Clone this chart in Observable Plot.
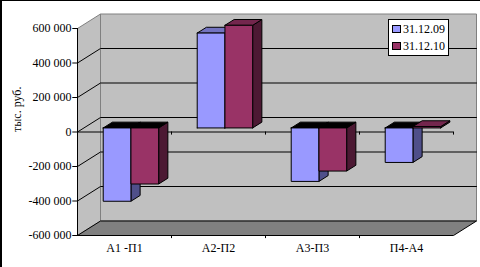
<!DOCTYPE html>
<html><head><meta charset="utf-8">
<script src="https://cdn.jsdelivr.net/npm/d3@7"></script>
<script src="https://cdn.jsdelivr.net/npm/@observablehq/plot@0.6"></script>
<style>
body{margin:0;background:#fff;}
#wrap{position:relative;width:480px;height:267px;overflow:hidden;font-family:"Liberation Serif",serif;}
#wrap svg{position:absolute;left:0;top:0;}
#wrap svg text{font-family:"Liberation Serif",serif;}
#border{position:absolute;left:0;top:0;width:480px;height:267px;border-left:2px solid #000;border-top:1px solid #000;box-sizing:border-box;pointer-events:none}
#legend{position:absolute;left:388px;top:19px;width:61px;height:37px;box-sizing:border-box;border:1px solid #000;background:#fff;font-size:12px;color:#000;font-family:"Liberation Serif",serif}
#legend .sw{position:absolute;left:3px;width:9px;height:8px;box-sizing:border-box;border:1px solid #000}
#legend .lb{position:absolute;left:14px;line-height:14px;white-space:nowrap}
</style></head>
<body><div id="wrap"></div>
<script>
// ---- data ----
const categories = ["А1 -П1", "А2-П2", "А3-П3", "П4-А4"];
const series = ["31.12.09", "31.12.10"];
const values09 = [-425000, 550000, -310000, -200000];
const values10 = [-325000, 595000, -250000, 8000];
const yTicks = [-600000, -400000, -200000, 0, 200000, 400000, 600000];
const yTitle = "тыс. руб.";

// ---- styles / 3D geometry ----
const FONT = "Liberation Serif";
const faceColors = ["#9999FF", "#993366"];
const sideColors = ["#4F4F8A", "#4C1933"];
const topColors = ["#7373C0", "#73264D"];
const DX = 23 / 94;     // full depth, x units
const DY = 84000;       // full depth, value units
const f0 = 0.28, f1 = 0.68; // bar depth range
const w = 0.295;        // bar width, x units
const yMin = -600000, yMax = 600000, nCat = categories.length;

const P = (x, v, f) => [x + f * DX, v + f * DY];
const poly = (pts, fill, stroke = "#000", sw = 1) =>
  Plot.line([...pts, pts[0]], {x: d => d[0], y: d => d[1], fill, stroke, strokeWidth: sw, strokeLinejoin: "miter"});

const marks = [];
// walls and floor
marks.push(poly([P(0, yMin, 1), P(nCat, yMin, 1), P(nCat, yMax, 1), P(0, yMax, 1)], "#C0C0C0", "#808080"));
marks.push(poly([P(0, yMin, 0), P(0, yMin, 1), P(0, yMax, 1), P(0, yMax, 0)], "#C0C0C0", "#808080"));
marks.push(poly([P(0, yMin, 0), P(nCat, yMin, 0), P(nCat, yMin, 1), P(0, yMin, 1)], "#808080", "#000"));
// gridlines
for (const v of yTicks.filter(t => t > yMin && t < yMax)) {
  marks.push(Plot.line([P(0, v, 0), P(0, v, 1), P(nCat, v, 1)], {x: d => d[0], y: d => d[1], stroke: "#000", strokeWidth: 1}));
}
// value axis
marks.push(Plot.ruleX([0], {y1: yMin, y2: yMax, stroke: "#000"}));
marks.push(Plot.ruleY(yTicks, {x1: -0.05, x2: 0, stroke: "#000"}));
const fmt = v => d3.format(",")(v).replace(/,/g, " ").replace("−", "-");
marks.push(Plot.text(yTicks, {x: 0, y: d => d, text: fmt, textAnchor: "end", dx: -6, fontSize: 12, fontFamily: FONT, fill: "#000"}));
// category axis at zero and bottom
marks.push(Plot.ruleY([0], {x1: 0, x2: nCat, stroke: "#000"}));
const catEdges = d3.range(1, nCat + 1);
marks.push(Plot.ruleX(catEdges, {y1: 0, y2: -18000, stroke: "#000"}));
marks.push(Plot.ruleX(catEdges.slice(0, -1), {y1: yMin, y2: yMin - 18000, stroke: "#000"}));
marks.push(Plot.text(categories, {x: (d, i) => i + 0.5, y: yMin, dy: 13, text: d => d, fontSize: 12, fontFamily: FONT, fill: "#000"}));
// bars
const seriesValues = [values09, values10];
categories.forEach((c, i) => {
  seriesValues.forEach((vals, s) => {
    const v = vals[i];
    const xL = i + 0.5 - w + s * w, xR = xL + w;
    const t = Math.max(v, 0);
    marks.push(poly([P(xR, 0, f0), P(xR, 0, f1), P(xR, v, f1), P(xR, v, f0)], sideColors[s]));
    marks.push(poly([P(xL, t, f0), P(xR, t, f0), P(xR, t, f1), P(xL, t, f1)], v > 0 ? topColors[s] : "#000"));
    marks.push(poly([P(xL, 0, f0), P(xR, 0, f0), P(xR, v, f0), P(xL, v, f0)], faceColors[s]));
  });
});
// y title
marks.push(Plot.text([yTitle], {frameAnchor: "left", dx: -60, rotate: -90, text: d => d, fontSize: 12, fontFamily: FONT, fill: "#000"}));

const chart = Plot.plot({
  width: 480, height: 267,
  marginLeft: 77, marginRight: 27, marginTop: 28, marginBottom: 32,
  style: {fontFamily: FONT, background: "transparent"},
  x: {domain: [0, nCat], axis: null},
  y: {domain: [yMin, yMax], axis: null},
  marks
});
const wrap = document.getElementById("wrap");
wrap.appendChild(chart);

// legend
const leg = document.createElement("div");
leg.id = "legend";
series.forEach((name, s) => {
  const sw = document.createElement("div");
  sw.className = "sw"; sw.style.top = (5 + s * 17) + "px"; sw.style.background = faceColors[s];
  const lb = document.createElement("div");
  lb.className = "lb"; lb.style.top = (2 + s * 17) + "px"; lb.textContent = name;
  leg.appendChild(sw); leg.appendChild(lb);
});
wrap.appendChild(leg);
const border = document.createElement("div");
border.id = "border";
wrap.appendChild(border);
</script>
</body></html>
